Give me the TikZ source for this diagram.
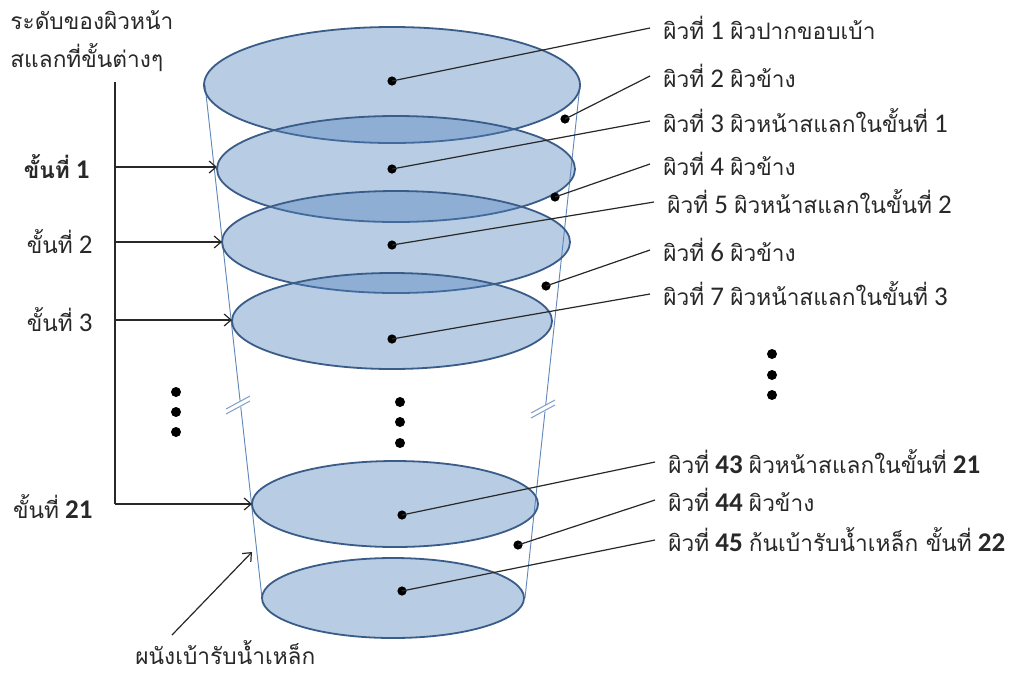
\documentclass[tikz,border=0pt]{standalone}
\usepackage{fontspec}
\setmainfont{Carlito}
\newfontfamily\thaifont[Script=Thai, Scale=0.84]{Loma}
\usetikzlibrary{arrows.meta}
\newcommand\tht[1]{{\thaifont #1}}

\definecolor{lyrfill}{RGB}{79,129,189}
\definecolor{lyredge}{RGB}{58,92,136}
\definecolor{walledge}{RGB}{95,135,185}
\definecolor{inkgray}{RGB}{40,40,40}

\tikzset{
  layer/.style={fill=lyrfill, fill opacity=0.4, draw=lyredge, line width=0.9pt},
  wall/.style={draw=walledge, line width=0.45pt},
  brk/.style={draw=walledge!80, line width=0.5pt},
  leader/.style={draw=inkgray, line width=0.6pt},
  pointer/.style={draw=inkgray, line width=0.6pt, -{Straight Barb[length=3.5pt,width=6pt]}},
  pt/.style={circle, fill=black, inner sep=0pt, minimum size=4.6pt},
  lbl/.style={anchor=west, inner xsep=6.5pt, inner ysep=0pt, font=\fontsize{13.5}{16}\selectfont, text=inkgray},
  steplbl/.style={anchor=east, inner sep=0pt, font=\fontsize{13.5}{16}\selectfont, text=inkgray},
}

\begin{document}
\begin{tikzpicture}[x=0.5pt, y=-0.5pt]
\path[fill=white, use as bounding box] (0,0) rectangle (1022,676);

% side walls of the ladle
\coordinate (wl1) at (205,85);  \coordinate (wl2) at (262,598);
\coordinate (wr1) at (580,85);  \coordinate (wr2) at (525,598);
\draw[wall] (wl1) -- (wl2);
\draw[wall] (wr1) -- (wr2);

% break marks on the walls
\foreach \bx/\by in {238/406, 543/410}{
  \fill[white, shift={(\bx,\by)}] (-12,3) -- (12,-10) -- (12,-4) -- (-12,9) -- cycle;
  \draw[brk, shift={(\bx,\by)}] (-12,3) -- (12,-10);
  \draw[brk, shift={(\bx,\by)}] (-12,8) -- (12,-5);
}

% slag surfaces
\draw[layer] (392,85)  ellipse [x radius=188, y radius=58];
\draw[layer] (396,169) ellipse [x radius=179, y radius=53];
\draw[layer] (396,242) ellipse [x radius=174, y radius=51];
\draw[layer] (392,321) ellipse [x radius=160, y radius=48];
\draw[layer] (395,504) ellipse [x radius=143, y radius=43];
\draw[layer] (393,598) ellipse [x radius=131, y radius=40];

% left edges of the surfaces
\coordinate (s1)  at (217,167);
\coordinate (s2)  at (222,242);
\coordinate (s3)  at (232,320);
\coordinate (s21) at (252,504);

% surface markers
\node[pt] (d1)  at (392,81)  {};
\node[pt] (d2)  at (565,119) {};
\node[pt] (d3)  at (392,169) {};
\node[pt] (d4)  at (555,197) {};
\node[pt] (d5)  at (392,245) {};
\node[pt] (d6)  at (546,286) {};
\node[pt] (d7)  at (392,339) {};
\node[pt] (d43) at (402,515) {};
\node[pt] (d44) at (518,545) {};
\node[pt] (d45) at (402,591) {};

% ellipsis dots
\node[pt, minimum size=5pt] (m1) at (400,402) {};
\node[pt, minimum size=5pt] (m2) at (400,422) {};
\node[pt, minimum size=5pt] (m3) at (400,443) {};
\node[pt, minimum size=5pt] (l1) at (176,392) {};
\node[pt, minimum size=5pt] (l2) at (176,412) {};
\node[pt, minimum size=5pt] (l3) at (176,432) {};
\node[pt, minimum size=5pt] (r1) at (772,354) {};
\node[pt, minimum size=5pt] (r2) at (772,375) {};
\node[pt, minimum size=5pt] (r3) at (772,395) {};

% surface labels
\node[lbl] (t1)  at (650,28)  {\tht{ผิวที่} 1 \tht{ผิวปากขอบเบ้า}};
\node[lbl] (t2)  at (650,76)  {\tht{ผิวที่} 2 \tht{ผิวข้าง}};
\node[lbl] (t3)  at (650,121) {\tht{ผิวที่} 3 \tht{ผิวหน้าสแลกในขั้นที่} 1};
\node[lbl] (t4)  at (650,164) {\tht{ผิวที่} 4 \tht{ผิวข้าง}};
\node[lbl] (t5)  at (654,202) {\tht{ผิวที่} 5 \tht{ผิวหน้าสแลกในขั้นที่} 2};
\node[lbl] (t6)  at (650,250) {\tht{ผิวที่} 6 \tht{ผิวข้าง}};
\node[lbl] (t7)  at (650,294) {\tht{ผิวที่} 7 \tht{ผิวหน้าสแลกในขั้นที่} 3};
\node[lbl] (t43) at (655,462) {\tht{ผิวที่} \textbf{43} \tht{ผิวหน้าสแลกในขั้นที่} \textbf{21}};
\node[lbl] (t44) at (655,500) {\tht{ผิวที่} \textbf{44} \tht{ผิวข้าง}};
\node[lbl] (t45) at (655,540) {\tht{ผิวที่} \textbf{45} \tht{ก้นเบ้ารับน้ำเหล็ก ขั้นที่} \textbf{22}};

\foreach \k in {1,2,3,4,5,6,7,43,44,45}{
  \draw[leader] (d\k.center) -- (t\k.west);
}

% level labels on the left
\node[anchor=north west, inner sep=0pt, align=left, text=inkgray,
      font=\fontsize{13.5}{19}\selectfont] (hdr) at (10,10)
      {\tht{ระดับของผิวหน้า}\\\tht{สแลกที่ขั้นต่างๆ}};
\node[steplbl] (k1)  at (90,167) {\textbf{\tht{ขั้นที่} 1}};
\node[steplbl] (k2)  at (93,242) {\tht{ขั้นที่} 2};
\node[steplbl] (k3)  at (93,320) {\tht{ขั้นที่} 3};
\node[steplbl] (k21) at (93,507) {\tht{ขั้นที่} \textbf{21}};

\coordinate (btop) at (115,82);
\coordinate (b1)  at (115,167);
\coordinate (b2)  at (115,242);
\coordinate (b3)  at (115,320);
\coordinate (b21) at (115,504);
\draw[leader] (btop) -- (b21);
\draw[pointer] (b1) -- (s1);
\draw[pointer] (b2) -- (s2);
\draw[pointer] (b3) -- (s3);
\draw[pointer] (b21) -- (s21);

% wall label
\node[anchor=west, inner sep=0pt, text=inkgray, font=\fontsize{13.5}{16}\selectfont]
  (wlbl) at (135,653) {\tht{ผนังเบ้ารับน้ำเหล็ก}};
\coordinate (wtail) at (172,635);
\coordinate (whead) at (252,552);
\draw[pointer] (wtail) -- (whead);
\end{tikzpicture}
\end{document}
